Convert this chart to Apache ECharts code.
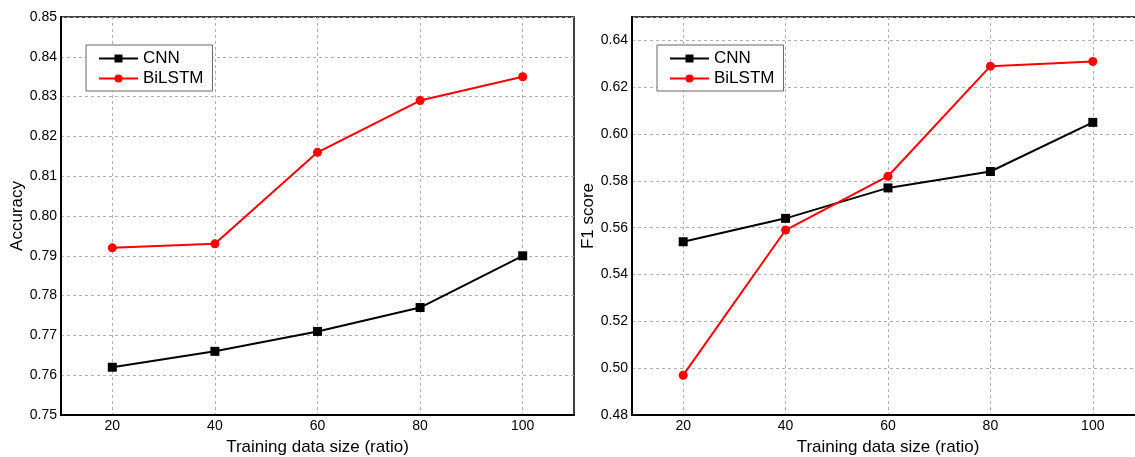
<!DOCTYPE html>
<html>
<head>
<meta charset="utf-8">
<script src="https://cdn.jsdelivr.net/npm/echarts@6/dist/echarts.min.js"></script>
<style>
  html, body { margin: 0; padding: 0; background: #fff; }
  #chart { width: 1135px; height: 457px; }
</style>
</head>
<body>
<div id="chart"></div>
<script>
// data
var sizes = [20, 40, 60, 80, 100];
var accCnn = [0.762, 0.766, 0.771, 0.777, 0.790];
var accBilstm = [0.792, 0.793, 0.816, 0.829, 0.835];
var f1Cnn = [0.554, 0.564, 0.577, 0.584, 0.605];
var f1Bilstm = [0.497, 0.559, 0.582, 0.629, 0.631];

function pairs(xs, ys) {
  return xs.map(function (x, i) { return [x, ys[i]]; });
}

var font = 'Liberation Sans, Arial, sans-serif';
var dash = { color: '#b0b0b0', width: 1, type: [3, 3] };

function xAxisFor(idx) {
  return {
    type: 'value', gridIndex: idx, min: 10, max: 110,
    name: 'Training data size (ratio)', nameLocation: 'middle', nameGap: 24,
    nameTextStyle: { fontFamily: font, fontSize: 17, color: '#000' },
    axisLine: { show: true, onZero: false, lineStyle: { color: '#000', width: 2 } },
    axisTick: { show: false, customValues: sizes },
    axisLabel: { customValues: sizes, fontFamily: font, fontSize: 14, color: '#000', margin: 4 },
    splitLine: { show: true, lineStyle: dash }
  };
}

function yAxisFor(idx, name, min, max, step) {
  return {
    type: 'value', gridIndex: idx, min: min, max: max, interval: step,
    name: name, nameLocation: 'middle', nameGap: 35,
    nameTextStyle: { fontFamily: font, fontSize: 17, color: '#000' },
    axisLine: { show: true, onZero: false, lineStyle: { color: '#000', width: 2 } },
    axisTick: { show: false },
    axisLabel: {
      fontFamily: font, fontSize: 14, color: '#000', margin: 4, showMaxLabel: idx === 0,
      formatter: function (v) { return v.toFixed(2); }
    },
    splitLine: { show: true, lineStyle: dash }
  };
}

function lineSeries(name, idx, data, color, symbol) {
  return {
    name: name, type: 'line', xAxisIndex: idx, yAxisIndex: idx,
    data: data, symbol: symbol, symbolSize: 9,
    lineStyle: { color: color, width: 2 },
    itemStyle: { color: color },
    z: name === 'CNN' ? 3 : 4
  };
}

function legendAt(left) {
  return {
    orient: 'vertical', left: left, top: 45,
    data: ['CNN', 'BiLSTM'],
    itemWidth: 39, itemHeight: 10, itemGap: 3,
    padding: [5, 9, 4, 12],
    borderColor: '#666', borderWidth: 1, backgroundColor: '#fff',
    textStyle: { fontFamily: font, fontSize: 17, color: '#000' }
  };
}

var myChart = echarts.init(document.getElementById('chart'));
var option = {
  animation: false,
  backgroundColor: '#fff',
  legend: [legendAt(86), legendAt(657)],
  grid: [
    { left: 61, width: 513, top: 17, height: 398, outerBoundsMode: 'none',
      show: true, borderColor: '#000', borderWidth: 1.5 },
    { left: 632, width: 512, top: 17, height: 398, outerBoundsMode: 'none',
      show: true, borderColor: '#000', borderWidth: 1.5 }
  ],
  xAxis: [xAxisFor(0), xAxisFor(1)],
  yAxis: [
    yAxisFor(0, 'Accuracy', 0.75, 0.85, 0.01),
    yAxisFor(1, 'F1 score', 0.48, 0.65, 0.02)
  ],
  series: [
    lineSeries('CNN', 0, pairs(sizes, accCnn), '#000', 'rect'),
    lineSeries('BiLSTM', 0, pairs(sizes, accBilstm), '#ff0000', 'circle'),
    lineSeries('CNN', 1, pairs(sizes, f1Cnn), '#000', 'rect'),
    lineSeries('BiLSTM', 1, pairs(sizes, f1Bilstm), '#ff0000', 'circle')
  ]
};
myChart.setOption(option);
</script>
</body>
</html>
